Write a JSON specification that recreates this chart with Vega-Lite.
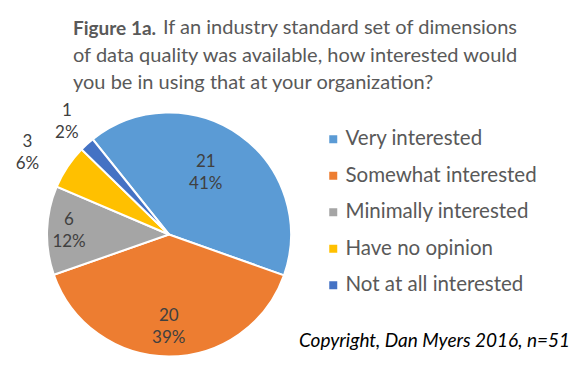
{
  "$schema": "https://vega.github.io/schema/vega-lite/v6.json",
  "background": "white",
  "padding": {"left": 0, "top": 18, "right": 0, "bottom": 0},
  "title": {
    "text": "Figure 1a.",
    "subtitle": ["\u200b\u2003\u2003\u2003\u2003\u2003\u2009\u2009\u2009\u2009\u2009\u2009If an industry standard set of dimensions", "of data quality was available, how interested would", "you be in using that at your organization?"],
    "anchor": "start",
    "frame": "group",
    "dx": 73,
    "font": "Lato",
    "fontSize": 19,
    "fontWeight": "bold",
    "color": "#595959",
    "subtitleFont": "Lato",
    "subtitleFontSize": 20,
    "subtitleColor": "#595959",
    "subtitleLineHeight": 27.5,
    "subtitlePadding": -21,
    "offset": 6
  },
  "data": {
    "values": [
      {"Response": "Very interested", "count": 21, "label": "21\n41%", "i": 1},
      {"Response": "Somewhat interested", "count": 20, "label": "20\n39%", "i": 2},
      {"Response": "Minimally interested", "count": 6, "label": "6\n12%", "i": 3},
      {"Response": "Have no opinion", "count": 3, "label": "3\n6%", "i": 4},
      {"Response": "Not at all interested", "count": 1, "label": "1\n2%", "i": 5}
    ]
  },
  "vconcat": [
    {
      "width": 338,
      "height": 267,
      "title": {
        "text": "Copyright, Dan Myers 2016, n=51",
        "orient": "bottom",
        "anchor": "start",
        "frame": "group",
        "dx": 299,
        "offset": -36,
        "font": "Lato",
        "fontSize": 19,
        "fontStyle": "italic",
        "fontWeight": "normal",
        "color": "#000000"
      },
      "encoding": {
        "theta": {"field": "count", "type": "quantitative", "stack": true, "scale": {"range": [-0.675, 5.608]}},
        "order": {"field": "i", "type": "quantitative"}
      },
      "layer": [
        {
          "mark": {"type": "arc", "outerRadius": 122, "stroke": "white", "strokeWidth": 2},
          "encoding": {
            "color": {
              "field": "Response",
              "type": "nominal",
              "scale": {
                "domain": ["Very interested", "Somewhat interested", "Minimally interested", "Have no opinion", "Not at all interested"],
                "range": ["#5B9BD5", "#ED7D31", "#A5A5A5", "#FFC000", "#4472C4"]
              },
              "legend": {
                "title": null,
                "orient": "none",
                "legendX": 323,
                "legendY": 28,
                "padding": 0,
                "symbolType": "square",
                "symbolSize": 64,
                "symbolStrokeWidth": 0,
                "labelFont": "Lato",
                "labelFontSize": 20.5,
                "labelColor": "#595959",
                "labelOffset": 2,
                "labelLimit": 400,
                "rowPadding": 15.5
              }
            }
          }
        },
        {
          "mark": {
            "type": "text",
            "radius": {"expr": "datum.i === 1 ? 72 : datum.i === 2 ? 93 : datum.i === 3 ? 100 : datum.i === 4 ? 164 : 152"},
            "dx": {"expr": "datum.i === 1 ? -5 : datum.i === 4 ? -5 : 0"},
            "dy": {"expr": "datum.i === 1 ? -14 : datum.i === 4 ? -2 : -11"},
            "font": "Lato",
            "fontSize": 17,
            "color": "#404040",
            "lineBreak": "\n",
            "lineHeight": 22
          },
          "encoding": {
            "detail": {"field": "Response", "type": "nominal"},
            "text": {"field": "label", "type": "nominal"}
          }
        }
      ]
    }
  ],
  "config": {
    "view": {"stroke": null}
  }
}
